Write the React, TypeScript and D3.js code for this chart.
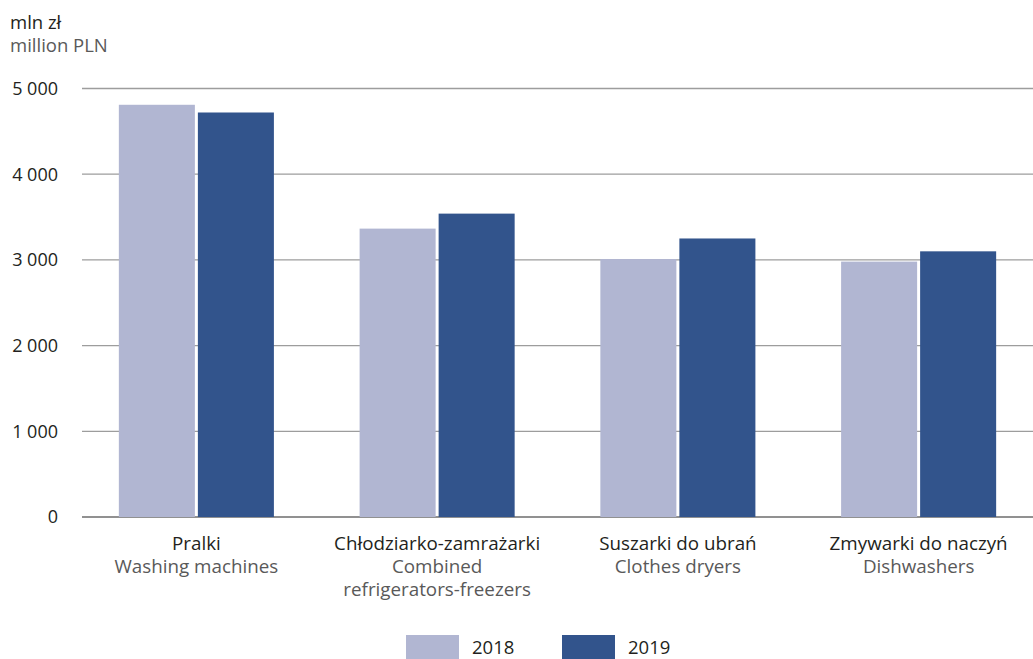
import React from "react";
import * as d3 from "d3";

const categoriesPl = ["Pralki", "Chłodziarko-zamrażarki", "Suszarki do ubrań", "Zmywarki do naczyń"];
const categoriesEn = [["Washing machines"], ["Combined", "refrigerators-freezers"], ["Clothes dryers"], ["Dishwashers"]];
const years = ["2018", "2019"];
const values2018 = [4810, 3365, 3010, 2980];
const values2019 = [4720, 3540, 3250, 3100];
const yTicks = [0, 1000, 2000, 3000, 4000, 5000];
const colors = ["#b1b6d2", "#32548c"];

const W = 1033;
const H = 659;
const FONT = "'Open Sans', 'Noto Sans', sans-serif";

export default function App() {
  const y = d3.scaleLinear().domain([0, 5000]).range([517, 88.5]);
  const x0 = d3.scaleBand<number>().domain(d3.range(4)).range([76, 1039]).paddingInner(0.356).paddingOuter(0.178);
  const x1 = d3.scaleBand<string>().domain(years).range([0, x0.bandwidth()]).paddingInner(0.038).paddingOuter(0);
  const series = [values2018, values2019];
  const fmt = (v: number) => (v >= 1000 ? `${Math.floor(v / 1000)} ${String(v % 1000).padStart(3, "0")}` : String(v));

  return (
    <svg width={W} height={H} style={{ display: "block", position: "absolute", left: 0, top: 0 }} fontFamily={FONT}>
      <rect width={W} height={H} fill="#fff" />
      <text x={10} y={29} fontSize={18.5} fill="#231f20">mln zł</text>
      <text x={10} y={52} fontSize={18.5} fill="#595959">million PLN</text>
      {yTicks.map((t) => (
        <g key={t}>
          <line x1={82} x2={1033} y1={y(t)} y2={y(t)} stroke={t === 0 ? "#6d6d6d" : "#9d9d9d"} strokeWidth={t === 0 ? 1.5 : 1.3} />
          <text x={58} y={y(t)} dy="0.36em" textAnchor="end" fontSize={18} fill="#231f20">{fmt(t)}</text>
        </g>
      ))}
      {categoriesPl.map((c, i) => (
        <g key={c} transform={`translate(${x0(i)},0)`}>
          {years.map((yr, j) => (
            <rect key={yr} x={x1(yr)} y={y(series[j][i])} width={x1.bandwidth()} height={y(0) - y(series[j][i])} fill={colors[j]} />
          ))}
        </g>
      ))}
      {categoriesPl.map((c, i) => {
        const cx = (x0(i) as number) + x0.bandwidth() / 2;
        return (
          <g key={c}>
            <text x={cx} y={550} textAnchor="middle" fontSize={18.8} fill="#231f20">{c}</text>
            {categoriesEn[i].map((l, k) => (
              <text key={l} x={cx} y={573 + k * 23} textAnchor="middle" fontSize={18.8} fill="#595959">{l}</text>
            ))}
          </g>
        );
      })}
      {years.map((yr, j) => (
        <g key={yr} transform={`translate(${406 + j * 156},0)`}>
          <rect x={0} y={635} width={53} height={24} fill={colors[j]} />
          <text x={66} y={654} fontSize={18.5} fill="#231f20">{yr}</text>
        </g>
      ))}
    </svg>
  );
}
